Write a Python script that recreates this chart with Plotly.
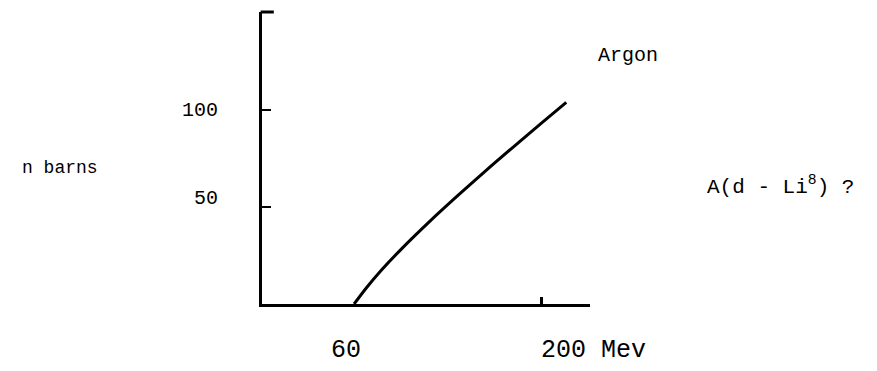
import plotly.graph_objects as go

# Data
energy_mev = [66, 75, 85, 100, 120, 140, 160, 180, 200, 218]
sigma_barns = [0, 8.5, 17, 28.4, 42.4, 55.6, 68.4, 80.8, 93, 103.8]

y_tick_vals = [50, 100]
y_tick_text = ["50", "100"]
x_tick_vals = [60, 200]
x_tick_text = ["60", "200 Mev"]

FONT = "Liberation Mono"

fig = go.Figure()
fig.add_trace(go.Scatter(
    x=energy_mev, y=sigma_barns, mode="lines",
    line=dict(color="black", width=3, shape="spline", smoothing=1.0),
    hoverinfo="skip", showlegend=False,
))

fig.update_layout(
    width=877, height=371,
    margin=dict(l=262, r=287, t=12, b=67),
    paper_bgcolor="white", plot_bgcolor="white",
    showlegend=False,
    xaxis=dict(
        range=[0, 235], showgrid=False, zeroline=False,
        showline=True, linecolor="black", linewidth=3,
        ticks="inside", tickvals=[200], ticklen=7, tickwidth=3, tickcolor="black",
        showticklabels=False, fixedrange=True,
    ),
    yaxis=dict(
        range=[0, 150.3], showgrid=False, zeroline=False,
        showline=True, linecolor="black", linewidth=3,
        ticks="inside", tickvals=[50, 100], ticklen=9, tickwidth=2, tickcolor="black",
        showticklabels=False, fixedrange=True,
    ),
    shapes=[
        # cap at the top of the vertical axis
        dict(type="line", xref="x domain", yref="y domain",
             x0=-0.004, x1=0.036, y0=1, y1=1,
             line=dict(color="black", width=3)),
    ],
)

W_PLOT = 328.0
H_PLOT = 292.0


def px_x(px):
    return (px - 262) / W_PLOT


def px_y(py):
    return (304 - py) / H_PLOT


annotations = []
# y labels (typed, left of axis)
y_label_pos = {"100": (220, 110), "50": (220, 198)}
for v, t in zip(y_tick_vals, y_tick_text):
    xr, yc = y_label_pos[t]
    annotations.append(dict(
        x=px_x(xr), xref="paper", y=px_y(yc), yref="paper", text=t, showarrow=False,
        xanchor="right", yanchor="middle",
        font=dict(family=FONT, size=20, color="black"),
    ))
# x labels
x_label_pos = {"60": (329, 350), "200 Mev": (539, 350)}
for v, t in zip(x_tick_vals, x_tick_text):
    xl, yc = x_label_pos[t]
    annotations.append(dict(
        x=px_x(xl), xref="paper", y=px_y(yc), yref="paper", text=t, showarrow=False,
        xanchor="left", yanchor="middle",
        font=dict(family=FONT, size=25, color="black"),
    ))
annotations += [
    dict(x=px_x(20), xref="paper", y=px_y(168), yref="paper",
         text="n barns", showarrow=False, xanchor="left", yanchor="middle",
         font=dict(family=FONT, size=18, color="black")),
    dict(x=px_x(596), xref="paper", y=px_y(55), yref="paper",
         text="Argon", showarrow=False, xanchor="left", yanchor="middle",
         font=dict(family=FONT, size=20, color="black")),
    dict(x=px_x(705), xref="paper", y=px_y(186), yref="paper",
         text="A(d - Li<sup>8</sup>) ?", showarrow=False, xanchor="left", yanchor="middle",
         font=dict(family=FONT, size=21, color="black")),
]
fig.update_layout(annotations=annotations)

fig.write_html("out.html", config={"displayModeBar": False},
               post_script="document.body.style.margin='0';")
